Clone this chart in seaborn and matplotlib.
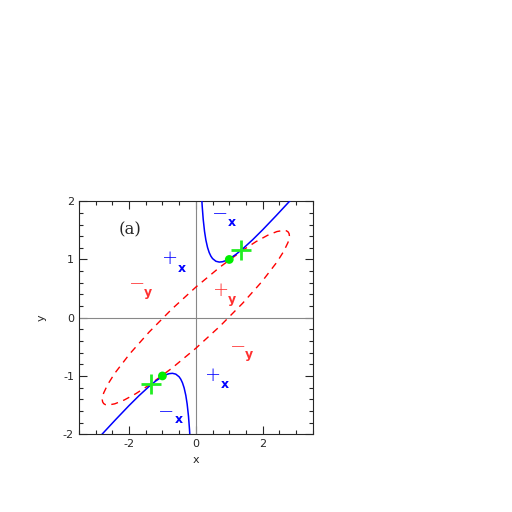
import matplotlib
matplotlib.use("Agg")
import matplotlib.pyplot as plt
import seaborn as sns
import pandas as pd
from matplotlib.ticker import MultipleLocator

# ---- data ----
curve_upper_x = [0.17, 0.19, 0.22, 0.26, 0.30, 0.35, 0.40, 0.45, 0.50, 0.60, 0.70, 0.80, 0.90,
                 1.00, 1.20, 1.40, 1.70, 2.00, 2.40, 2.80, 3.00]
curve_upper_y = [2.114, 1.916, 1.692, 1.482, 1.334, 1.206, 1.118, 1.057, 1.015, 0.969, 0.955,
                 0.961, 0.981, 1.010, 1.087, 1.181, 1.339, 1.510, 1.750, 1.997, 2.123]
curve_lower_x = [-0.17, -0.19, -0.22, -0.26, -0.30, -0.35, -0.40, -0.45, -0.50, -0.60, -0.70, -0.80,
                 -0.90, -1.00, -1.20, -1.40, -1.70, -2.00, -2.40, -2.80, -3.00]
curve_lower_y = [-2.114, -1.916, -1.692, -1.482, -1.334, -1.206, -1.118, -1.057, -1.015, -0.969,
                 -0.955, -0.961, -0.981, -1.010, -1.087, -1.181, -1.339, -1.510, -1.750, -1.997, -2.123]

ellipse_x = [2.8, 2.789, 2.757, 2.705, 2.631, 2.425, 2.145, 1.8, 1.4, 0.725, 0.0, -0.725, -1.4,
             -1.98, -2.425, -2.631, -2.757, -2.789,
             -2.8, -2.789, -2.757, -2.705, -2.631, -2.425, -2.145, -1.8, -1.4, -0.725, 0.0, 0.725,
             1.4, 1.98, 2.425, 2.631, 2.757, 2.789, 2.8]
ellipse_y = [1.405, 1.445, 1.475, 1.493, 1.5, 1.479, 1.414, 1.306, 1.157, 0.871, 0.525, 0.144,
             -0.248, -0.622, -0.954, -1.141, -1.292, -1.354,
             -1.405, -1.445, -1.475, -1.493, -1.5, -1.479, -1.414, -1.306, -1.157, -0.871, -0.525,
             -0.144, 0.248, 0.622, 0.954, 1.141, 1.292, 1.354, 1.405]

dot_x = [1.0, -1.0]
dot_y = [1.0, -1.0]
cross_x = [1.34, -1.34]
cross_y = [1.155, -1.14]

sign_labels = ["+", "\u2212", "\u2212", "+", "\u2212", "+", "\u2212"]
sub_labels = ["x", "x", "y", "y", "y", "x", "x"]
sign_colors = ["blue", "blue", "red", "red", "red", "blue", "blue"]
panel_label = "(a)"

x_ticks = [-2, 0, 2]
y_ticks = [-2, -1, 0, 1, 2]

# positions of annotation glyphs (data coords)
sign_pos = [(-0.78, 1.02), (0.72, 1.80), (-1.76, 0.60), (0.75, 0.46), (1.26, -0.48),
            (0.51, -0.99), (-0.90, -1.60)]
sub_pos = [(-0.42, 0.84), (1.08, 1.64), (-1.44, 0.43), (1.08, 0.31), (1.59, -0.64),
           (0.87, -1.14), (-0.51, -1.75)]

# ---- plot ----
sns.set_style("ticks")
plt.rcParams["font.family"] = ["DejaVu Sans"]
plt.rcParams["axes.unicode_minus"] = False

fig = plt.figure(figsize=(5.12, 5.12), dpi=100)
ax = fig.add_axes([0.154, 0.152, 0.457, 0.455])

ax.axhline(0, color="#888888", lw=0.8, zorder=1)
ax.axvline(0, color="#888888", lw=0.8, zorder=1)

df_u = pd.DataFrame({"x": curve_upper_x, "y": curve_upper_y})
df_l = pd.DataFrame({"x": curve_lower_x, "y": curve_lower_y})
df_e = pd.DataFrame({"x": ellipse_x, "y": ellipse_y})

sns.lineplot(data=df_e, x="x", y="y", sort=False, estimator=None, ax=ax,
             color="red", lw=1.0, linestyle=(0, (5, 4)), zorder=2)
sns.lineplot(data=df_u, x="x", y="y", sort=False, estimator=None, ax=ax,
             color="blue", lw=1.1, zorder=3)
sns.lineplot(data=df_l, x="x", y="y", sort=False, estimator=None, ax=ax,
             color="blue", lw=1.1, zorder=3)

sns.scatterplot(x=dot_x, y=dot_y, ax=ax, color="#00ee00", s=40, edgecolor="none", zorder=4)
sns.scatterplot(x=cross_x, y=cross_y, ax=ax, color="#22ee22", marker="+", s=220,
                linewidth=2.0, zorder=4)

for lab, sub, col, (sx, sy), (bx, by) in zip(sign_labels, sub_labels, sign_colors, sign_pos, sub_pos):
    c = "blue" if col == "blue" else "#ff3030"
    ax.text(sx, sy, lab, color=c, fontsize=14, ha="center", va="center", fontweight="light")
    ax.text(bx, by, sub, color=c, fontsize=9, ha="center", va="center", fontweight="bold")

ax.text(-1.97, 1.50, panel_label, fontsize=12, family="DejaVu Serif", ha="center", va="center")

ax.set_xlim(-3.5, 3.5)
ax.set_ylim(-2, 2)
ax.set_xticks(x_ticks)
ax.set_yticks(y_ticks)
ax.xaxis.set_minor_locator(MultipleLocator(0.5))
ax.yaxis.set_minor_locator(MultipleLocator(0.2))
ax.tick_params(which="both", direction="in", top=True, right=True, labelsize=8, width=0.8)
ax.tick_params(which="major", length=6)
ax.tick_params(which="minor", length=3)
ax.set_xlabel("x", fontsize=8)
ax.set_ylabel("y", fontsize=8, labelpad=12)
for s in ax.spines.values():
    s.set_linewidth(0.8)
    s.set_visible(True)

fig.savefig("out.png", dpi=100)
